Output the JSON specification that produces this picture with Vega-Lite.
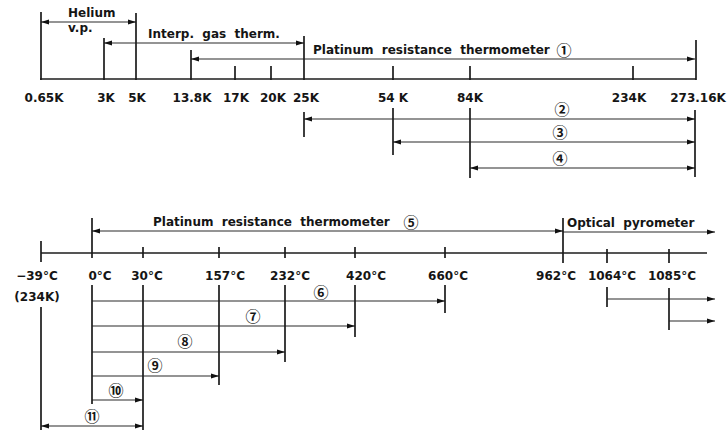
{
  "$schema": "https://vega.github.io/schema/vega-lite/v6.json",
  "width": 727,
  "height": 432,
  "autosize": {"type": "fit", "contains": "padding"},
  "padding": 0,
  "background": "white",
  "config": {"view": {"stroke": null}},
  "datasets": {
    "spans": [
      {"name": "Kelvin scale", "x1": 40, "x2": 696, "y": 79, "head": "none", "kind": "scale"},
      {"name": "Celsius scale", "x1": 41, "x2": 707, "y": 253, "head": "none", "kind": "scale"},
      {"name": "Helium v.p.", "x1": 41, "x2": 136, "y": 22, "head": "both", "kind": "range"},
      {"name": "Interp. gas therm.", "x1": 104, "x2": 304, "y": 43, "head": "both", "kind": "range"},
      {"name": "PRT 1", "x1": 191, "x2": 695, "y": 59, "head": "both", "kind": "range"},
      {"name": "PRT 2", "x1": 304, "x2": 695, "y": 119, "head": "both", "kind": "range"},
      {"name": "PRT 3", "x1": 393, "x2": 695, "y": 142, "head": "both", "kind": "range"},
      {"name": "PRT 4", "x1": 470, "x2": 695, "y": 168, "head": "both", "kind": "range"},
      {"name": "PRT 5", "x1": 92, "x2": 563, "y": 231, "head": "both", "kind": "range"},
      {"name": "Optical pyrometer", "x1": 563, "x2": 715, "y": 232, "head": "right", "kind": "range"},
      {"name": "PRT 6", "x1": 92, "x2": 445, "y": 301, "head": "right", "kind": "range"},
      {"name": "From 1064", "x1": 607, "x2": 715, "y": 299, "head": "right", "kind": "range"},
      {"name": "From 1085", "x1": 669, "x2": 715, "y": 321, "head": "right", "kind": "range"},
      {"name": "PRT 7", "x1": 92, "x2": 355, "y": 326, "head": "right", "kind": "range"},
      {"name": "PRT 8", "x1": 92, "x2": 285, "y": 352, "head": "right", "kind": "range"},
      {"name": "PRT 9", "x1": 92, "x2": 219, "y": 376, "head": "right", "kind": "range"},
      {"name": "PRT 10", "x1": 92, "x2": 143, "y": 400, "head": "right", "kind": "range"},
      {"name": "PRT 11", "x1": 41, "x2": 143, "y": 426, "head": "both", "kind": "range"}
    ],
    "posts": [
      {"at": "0.65K", "x": 41, "y1": 12, "y2": 80},
      {"at": "3K", "x": 104, "y1": 38, "y2": 80},
      {"at": "5K", "x": 136, "y1": 13, "y2": 80},
      {"at": "13.8K", "x": 191, "y1": 50, "y2": 80},
      {"at": "17K", "x": 235, "y1": 66, "y2": 80},
      {"at": "20K", "x": 271, "y1": 66, "y2": 80},
      {"at": "25K", "x": 304, "y1": 36, "y2": 80},
      {"at": "54K", "x": 393, "y1": 66, "y2": 80},
      {"at": "84K", "x": 470, "y1": 66, "y2": 80},
      {"at": "234K", "x": 633, "y1": 66, "y2": 80},
      {"at": "273.16K", "x": 696, "y1": 40, "y2": 80},
      {"at": "25K", "x": 304, "y1": 112, "y2": 137},
      {"at": "54K", "x": 393, "y1": 108, "y2": 155},
      {"at": "84K", "x": 470, "y1": 108, "y2": 178},
      {"at": "273.16K", "x": 695, "y1": 110, "y2": 177},
      {"at": "-39C", "x": 41, "y1": 241, "y2": 262},
      {"at": "0C", "x": 92, "y1": 218, "y2": 258},
      {"at": "30C", "x": 143, "y1": 247, "y2": 258},
      {"at": "157C", "x": 219, "y1": 247, "y2": 258},
      {"at": "232C", "x": 285, "y1": 247, "y2": 258},
      {"at": "420C", "x": 355, "y1": 247, "y2": 258},
      {"at": "660C", "x": 445, "y1": 247, "y2": 258},
      {"at": "962C", "x": 563, "y1": 218, "y2": 263},
      {"at": "1064C", "x": 607, "y1": 249, "y2": 263},
      {"at": "1085C", "x": 669, "y1": 249, "y2": 263},
      {"at": "-39C", "x": 41, "y1": 307, "y2": 430},
      {"at": "0C", "x": 92, "y1": 285, "y2": 404},
      {"at": "30C", "x": 143, "y1": 285, "y2": 430},
      {"at": "157C", "x": 219, "y1": 285, "y2": 385},
      {"at": "232C", "x": 285, "y1": 285, "y2": 362},
      {"at": "420C", "x": 355, "y1": 285, "y2": 337},
      {"at": "660C", "x": 445, "y1": 285, "y2": 313},
      {"at": "1064C", "x": 607, "y1": 287, "y2": 307},
      {"at": "1085C", "x": 669, "y1": 288, "y2": 330}
    ],
    "labels": [
      {"text": "0.65K", "x": 44, "y": 102, "kind": "tick"},
      {"text": "3K", "x": 106, "y": 102, "kind": "tick"},
      {"text": "5K", "x": 137, "y": 102, "kind": "tick"},
      {"text": "13.8K", "x": 192, "y": 102, "kind": "tick"},
      {"text": "17K", "x": 236, "y": 102, "kind": "tick"},
      {"text": "20K", "x": 273, "y": 102, "kind": "tick"},
      {"text": "25K", "x": 306, "y": 102, "kind": "tick"},
      {"text": "54 K", "x": 393, "y": 102, "kind": "tick"},
      {"text": "84K", "x": 470, "y": 102, "kind": "tick"},
      {"text": "234K", "x": 629, "y": 102, "kind": "tick"},
      {"text": "273.16K", "x": 698, "y": 102, "kind": "tick"},
      {"text": "−39°C", "x": 37, "y": 280, "kind": "tick"},
      {"text": "(234K)", "x": 37, "y": 301, "kind": "tick"},
      {"text": "0°C", "x": 100, "y": 280, "kind": "tick"},
      {"text": "30°C", "x": 147, "y": 280, "kind": "tick"},
      {"text": "157°C", "x": 225, "y": 280, "kind": "tick"},
      {"text": "232°C", "x": 290, "y": 280, "kind": "tick"},
      {"text": "420°C", "x": 366, "y": 280, "kind": "tick"},
      {"text": "660°C", "x": 448, "y": 280, "kind": "tick"},
      {"text": "962°C", "x": 556, "y": 280, "kind": "tick"},
      {"text": "1064°C", "x": 612, "y": 280, "kind": "tick"},
      {"text": "1085°C", "x": 672, "y": 280, "kind": "tick"},
      {"text": "Helium", "x": 68, "y": 17, "kind": "note"},
      {"text": "v.p.", "x": 68, "y": 32, "kind": "note"},
      {"text": "Interp.\u00a0\u00a0gas\u00a0\u00a0therm.", "x": 148, "y": 38, "kind": "note"},
      {"text": "Platinum\u00a0\u00a0resistance\u00a0\u00a0thermometer", "x": 313, "y": 54, "kind": "note"},
      {"text": "Platinum\u00a0\u00a0resistance\u00a0\u00a0thermometer", "x": 153, "y": 226, "kind": "note"},
      {"text": "Optical\u00a0\u00a0pyrometer", "x": 567, "y": 227, "kind": "note"},
      {"text": "①", "x": 564, "y": 51, "kind": "num"},
      {"text": "②", "x": 562, "y": 110, "kind": "num"},
      {"text": "③", "x": 560, "y": 133, "kind": "num"},
      {"text": "④", "x": 560, "y": 159, "kind": "num"},
      {"text": "⑤", "x": 411, "y": 223, "kind": "num"},
      {"text": "⑥", "x": 321, "y": 293, "kind": "num"},
      {"text": "⑦", "x": 253, "y": 317, "kind": "num"},
      {"text": "⑧", "x": 185, "y": 342, "kind": "num"},
      {"text": "⑨", "x": 155, "y": 366, "kind": "num"},
      {"text": "⑩", "x": 116, "y": 391, "kind": "num"},
      {"text": "⑪", "x": 92, "y": 417, "kind": "num"}
    ]
  },
  "layer": [
    {
      "data": {"name": "spans"},
      "transform": [{"filter": "datum.kind === 'scale'"}],
      "mark": {"type": "rule", "stroke": "#1c1c1c", "strokeWidth": 1.6},
      "encoding": {
        "x": {"field": "x1", "type": "quantitative", "axis": null, "scale": {"domain": [0, 727], "nice": false, "zero": false}},
        "x2": {"field": "x2"},
        "y": {"field": "y", "type": "quantitative", "axis": null, "scale": {"domain": [0, 432], "nice": false, "zero": false, "reverse": true}}
      }
    },
    {
      "data": {"name": "spans"},
      "transform": [{"filter": "datum.kind === 'range'"}],
      "mark": {"type": "rule", "stroke": "#2a2a2a", "strokeWidth": 1.1},
      "encoding": {
        "x": {"field": "x1", "type": "quantitative", "axis": null, "scale": {"domain": [0, 727], "nice": false, "zero": false}},
        "x2": {"field": "x2"},
        "y": {"field": "y", "type": "quantitative", "axis": null, "scale": {"domain": [0, 432], "nice": false, "zero": false, "reverse": true}}
      }
    },
    {
      "data": {"name": "posts"},
      "mark": {"type": "rule", "stroke": "#1c1c1c", "strokeWidth": 1.7},
      "encoding": {
        "x": {"field": "x", "type": "quantitative", "axis": null, "scale": {"domain": [0, 727], "nice": false, "zero": false}},
        "y": {"field": "y1", "type": "quantitative", "axis": null, "scale": {"domain": [0, 432], "nice": false, "zero": false, "reverse": true}},
        "y2": {"field": "y2"}
      }
    },
    {
      "data": {"name": "spans"},
      "transform": [{"filter": "datum.head === 'both' || datum.head === 'left'"}],
      "mark": {"type": "point", "shape": "M0,0L2,-0.6L2,0.6Z", "filled": true, "size": 64, "color": "#111", "opacity": 1, "strokeWidth": 0},
      "encoding": {
        "x": {"field": "x1", "type": "quantitative", "axis": null, "scale": {"domain": [0, 727], "nice": false, "zero": false}},
        "y": {"field": "y", "type": "quantitative", "axis": null, "scale": {"domain": [0, 432], "nice": false, "zero": false, "reverse": true}}
      }
    },
    {
      "data": {"name": "spans"},
      "transform": [{"filter": "datum.head === 'both' || datum.head === 'right'"}],
      "mark": {"type": "point", "shape": "M0,0L-2,-0.6L-2,0.6Z", "filled": true, "size": 64, "color": "#111", "opacity": 1, "strokeWidth": 0},
      "encoding": {
        "x": {"field": "x2", "type": "quantitative", "axis": null, "scale": {"domain": [0, 727], "nice": false, "zero": false}},
        "y": {"field": "y", "type": "quantitative", "axis": null, "scale": {"domain": [0, 432], "nice": false, "zero": false, "reverse": true}}
      }
    },
    {
      "data": {"name": "labels"},
      "transform": [{"filter": "datum.kind === 'tick'"}],
      "mark": {"type": "text", "font": "DejaVu Sans", "fontWeight": "bold", "fontSize": 12, "align": "center", "baseline": "alphabetic", "color": "#151515"},
      "encoding": {
        "x": {"field": "x", "type": "quantitative", "axis": null, "scale": {"domain": [0, 727], "nice": false, "zero": false}},
        "y": {"field": "y", "type": "quantitative", "axis": null, "scale": {"domain": [0, 432], "nice": false, "zero": false, "reverse": true}},
        "text": {"field": "text"}
      }
    },
    {
      "data": {"name": "labels"},
      "transform": [{"filter": "datum.kind === 'note'"}],
      "mark": {"type": "text", "font": "DejaVu Sans", "fontWeight": "bold", "fontSize": 12, "align": "left", "baseline": "alphabetic", "color": "#151515"},
      "encoding": {
        "x": {"field": "x", "type": "quantitative", "axis": null, "scale": {"domain": [0, 727], "nice": false, "zero": false}},
        "y": {"field": "y", "type": "quantitative", "axis": null, "scale": {"domain": [0, 432], "nice": false, "zero": false, "reverse": true}},
        "text": {"field": "text"}
      }
    },
    {
      "data": {"name": "labels"},
      "transform": [{"filter": "datum.kind === 'num'"}],
      "mark": {"type": "text", "font": "Noto Sans CJK JP", "fontWeight": "bold", "fontSize": 15, "align": "center", "baseline": "middle", "color": "#151515"},
      "encoding": {
        "x": {"field": "x", "type": "quantitative", "axis": null, "scale": {"domain": [0, 727], "nice": false, "zero": false}},
        "y": {"field": "y", "type": "quantitative", "axis": null, "scale": {"domain": [0, 432], "nice": false, "zero": false, "reverse": true}},
        "text": {"field": "text"}
      }
    }
  ]
}
